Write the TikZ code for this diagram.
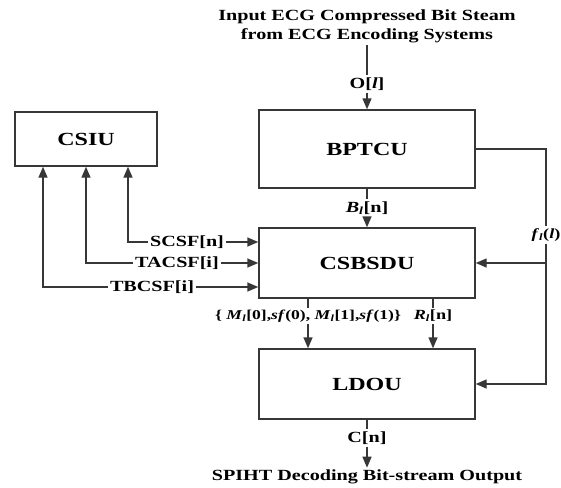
\documentclass[tikz,border=0pt]{standalone}
\usepackage{fontspec}
\setmainfont{Liberation Serif}[FakeStretch=1.3]
\usetikzlibrary{positioning,arrows.meta}
\definecolor{lineGray}{RGB}{55,55,55}
\newcommand{\SubL}[1]{\textit{#1}\textsubscript{\textit{l}}}
\tikzset{
  unitbox/.style={draw=lineGray,line width=1.4pt,fill=white,minimum width=216pt,minimum height=70pt,font=\bfseries\fontsize{18.5}{20}\selectfont},
  sig/.style={font=\bfseries\fontsize{15.5}{19}\selectfont,inner sep=2pt},
  wire/.style={draw=lineGray,line width=1.4pt},
  flow/.style={wire,-{Triangle[length=11pt,width=9pt]}}
}

\begin{document}
\begin{tikzpicture}[x=1pt,y=-1pt]
\useasboundingbox (0,0) rectangle (561,487);
\node[unitbox,minimum height=78pt] (bptcu) at (367,149) {BPTCU};
\node[unitbox] (csbsdu) at (367,263) {CSBSDU};
\node[unitbox] (ldou) at (367,384) {LDOU};
\node[unitbox,minimum width=142pt,minimum height=54pt] (csiu) at (86,139) {CSIU};
\node[sig,align=center] (intxt) at (367,26) {Input ECG Compressed Bit Steam\\from ECG Encoding Systems};
\node[sig] (outtxt) at (367,477) {SPIHT Decoding Bit-stream Output};

\node[sig] (olab) at (367,84) {O[\textit{l}]};
\draw[wire] (intxt) -- (olab);
\draw[flow] (olab) -- (bptcu);

\node[sig] (blab) at (367,208) {\SubL{B}[n]};
\draw[wire] (bptcu) -- (blab);
\draw[flow] (blab) -- (csbsdu);

\node[sig,font=\bfseries\fontsize{13.5}{16}\selectfont] (mlab) at (308,316) {\{ \SubL{M}[0],\textit{sf}(0), \SubL{M}[1],\textit{sf}(1)\}};
\draw[wire] (csbsdu.south -| mlab) -- (mlab);
\draw[flow] (mlab) -- (ldou.north -| mlab);
\node[sig,font=\bfseries\fontsize{14}{16}\selectfont] (rlab) at (433,316) {\SubL{R}[n]};
\draw[wire] (csbsdu.south -| rlab) -- (rlab);
\draw[flow] (rlab) -- (ldou.north -| rlab);

\node[sig] (clab) at (367,438) {C[n]};
\draw[wire] (ldou) -- (clab);
\draw[flow] (clab) -- (outtxt);

\coordinate (fbus) at (546,150);
\node[sig,font=\bfseries\fontsize{14}{16}\selectfont] (flab) at (546,235) {\SubL{f}(\textit{l})};
\draw[wire] (bptcu.east) -- (fbus |- bptcu.east) -- (flab);
\draw[flow] (flab) |- (ldou.east);
\draw[flow] (flab |- csbsdu.east) -- (csbsdu.east);

\node[sig] (scsf) at (187,242) {SCSF[n]};
\node[sig] (tacsf) at (177,263) {TACSF[i]};
\node[sig] (tbcsf) at (152,287) {TBCSF[i]};
\draw[flow] (scsf) -- (scsf -| csbsdu.west);
\draw[flow] (tacsf) -- (tacsf -| csbsdu.west);
\draw[flow] (tbcsf) -- (tbcsf -| csbsdu.west);
\draw[flow] (scsf) -| ([xshift=42pt]csiu.south);
\draw[flow] (tacsf) -| (csiu.south);
\draw[flow] (tbcsf) -| ([xshift=-43pt]csiu.south);
\end{tikzpicture}
\end{document}
